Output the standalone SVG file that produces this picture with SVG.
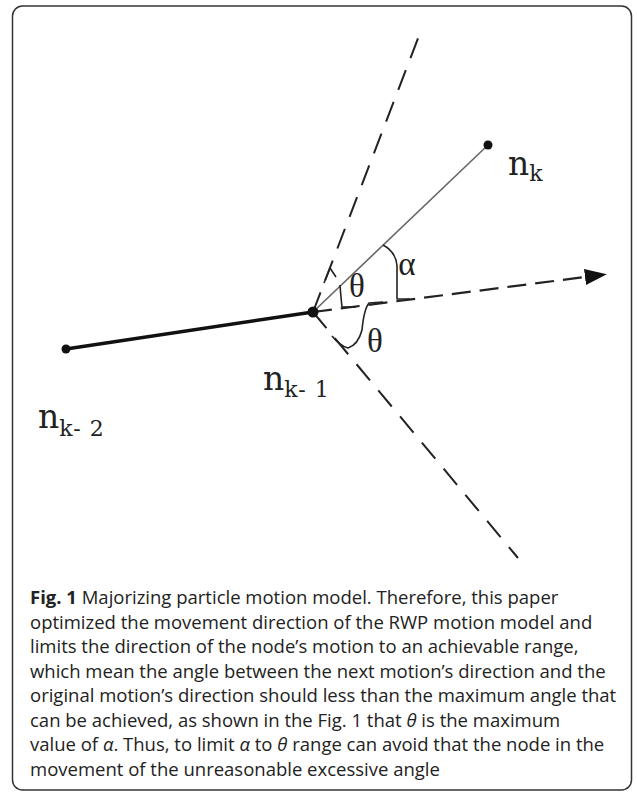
<svg xmlns="http://www.w3.org/2000/svg" width="637" height="792" viewBox="0 0 637 792">
<defs>
<style>
.dash{stroke:#222;stroke-width:2;fill:none;stroke-dasharray:21 13}
.arr{stroke:#222;stroke-width:2.2;fill:none;stroke-dasharray:19 9}
.mark{stroke:#222;stroke-width:1.6;fill:none;stroke-linejoin:round}
.lbl{font-family:"DejaVu Serif","Liberation Serif",serif;fill:#222}
.sub{font-size:22px;letter-spacing:1px}
.greek{font-family:"Liberation Serif","DejaVu Serif",serif;font-size:33px;fill:#222;text-anchor:middle}
.cap{font-family:"Open Sans","Noto Sans",sans-serif;font-size:18.5px;fill:#222}
</style>
<marker id="ah" viewBox="0 0 22 16" refX="0" refY="8" markerWidth="22" markerHeight="16" markerUnits="userSpaceOnUse" orient="auto">
<path d="M0,0 L22,8 L0,16 Z" fill="#111"/>
</marker>
</defs>
<rect x="12.5" y="6" width="619" height="784" rx="10" fill="#fff" stroke="#333" stroke-width="1.5"/>
<g id="connectors">
<line x1="66" y1="349" x2="313" y2="312" stroke="#111" stroke-width="3.5"/>
<line x1="313" y1="312" x2="488" y2="145" stroke="#666" stroke-width="1.6"/>
<line class="dash" x1="313" y1="312" x2="422" y2="28"/>
<line class="dash" x1="313" y1="312" x2="518" y2="558"/>
<line class="arr" x1="313" y1="312" x2="585" y2="277" marker-end="url(#ah)"/>
</g>
<g id="angles">
<path class="mark" d="M324,283 L330,268 L336,277"/>
<path class="mark" d="M340,285 Q341,298 342,307 L356,307"/>
<path class="mark" d="M383,245 Q396,252 397,266 L397,299 L410,299"/>
<path class="mark" d="M383,302 L369,303 Q364,309 362,330 Q358,345 348,348 Q340,346 332,336"/>
<text class="greek" x="357" y="297">θ</text>
<text class="greek" x="407" y="275">α</text>
<text class="greek" x="375" y="352">θ</text>
</g>
<g id="node-nk2">
<circle cx="66" cy="349" r="4.5" fill="#111"/>
<text class="lbl" x="38" y="428" font-size="33">n<tspan class="sub" dy="8">k- 2</tspan></text>
</g>
<g id="node-nk1">
<circle cx="313" cy="312" r="5.5" fill="#111"/>
<text class="lbl" x="263" y="390" font-size="33">n<tspan class="sub" dy="7">k- 1</tspan></text>
</g>
<g id="node-nk">
<circle cx="488" cy="145" r="4.5" fill="#111"/>
<text class="lbl" x="508" y="175" font-size="33">n<tspan class="sub" dy="6">k</tspan></text>
</g>
<g id="caption">
<text class="cap" x="30" y="604"><tspan font-weight="bold">Fig. 1</tspan> Majorizing particle motion model. Therefore, this paper</text>
<text class="cap" x="30" y="628.5">optimized the movement direction of the RWP motion model and</text>
<text class="cap" x="30" y="653">limits the direction of the node’s motion to an achievable range,</text>
<text class="cap" x="30" y="677.5">which mean the angle between the next motion’s direction and the</text>
<text class="cap" x="30" y="702">original motion’s direction should less than the maximum angle that</text>
<text class="cap" x="30" y="726.5">can be achieved, as shown in the Fig. 1 that <tspan font-style="italic">θ</tspan> is the maximum</text>
<text class="cap" x="30" y="751">value of <tspan font-style="italic">α</tspan>. Thus, to limit <tspan font-style="italic">α</tspan> to <tspan font-style="italic">θ</tspan> range can avoid that the node in the</text>
<text class="cap" x="30" y="775.5">movement of the unreasonable excessive angle</text>
</g>
</svg>
